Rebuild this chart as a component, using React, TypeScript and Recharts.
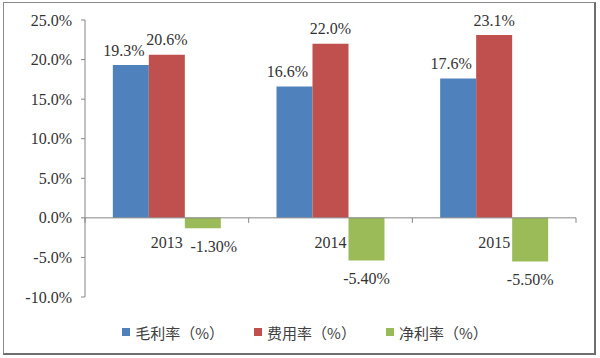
import { BarChart, Bar, XAxis, YAxis, Legend, ReferenceLine, LabelList } from "recharts";

const years = ["2013", "2014", "2015"];
const grossMargin = [19.3, 16.6, 17.6];
const expenseRate = [20.6, 22.0, 23.1];
const netMargin = [-1.3, -5.4, -5.5];
const yTicks = [-10, -5, 0, 5, 10, 15, 20, 25];

const data = years.map((y, i) => ({
  year: y,
  gross: grossMargin[i],
  expense: expenseRate[i],
  net: netMargin[i],
}));

const W = 600;
const H = 358;
const M = { top: 20, right: 24, left: 0, bottom: 14 };
const Y_W = 85;
const X_H = 23;
const LEG_H = 24;
const PLOT_TOP = M.top;
const PLOT_BOTTOM = H - M.bottom - LEG_H - X_H;
const PLOT_W = W - M.right - M.left - Y_W;
const ZERO_Y = PLOT_TOP + ((25 - 0) / 35) * (PLOT_BOTTOM - PLOT_TOP);
const BAND = PLOT_W / years.length;

const serif = "Liberation Serif";
const textColor = "#333";
const axisColor = "#868686";

const XTick = (props: any) => {
  const { x, payload, index } = props;
  return (
    <g>
      <line x1={x - BAND / 2} x2={x - BAND / 2} y1={ZERO_Y} y2={ZERO_Y + 5} stroke={axisColor} />
      {index === years.length - 1 && (
        <line x1={x + BAND / 2} x2={x + BAND / 2} y1={ZERO_Y} y2={ZERO_Y + 5} stroke={axisColor} />
      )}
      <text x={x} y={ZERO_Y + 25} textAnchor="middle" dominantBaseline="central"
        style={{ fontFamily: serif }} fontSize={16} fill={textColor}>
        {payload.value}
      </text>
    </g>
  );
};

const YTick = (props: any) => {
  const { x, y, payload } = props;
  return (
    <text x={x} y={y} textAnchor="end" dominantBaseline="central"
      style={{ fontFamily: serif }} fontSize={16} fill={textColor}>
      {payload.value.toFixed(1) + "%"}
    </text>
  );
};

const topLabel = (dx: number) => (props: any) => {
  const { x, y, width, value } = props;
  return (
    <text x={x + width / 2 + dx} y={y - 15} textAnchor="middle" dominantBaseline="central"
      style={{ fontFamily: serif }} fontSize={16} fill={textColor}>
      {value.toFixed(1) + "%"}
    </text>
  );
};

const netLabel = (props: any) => {
  const { x, y, width, height, value, index } = props;
  const bottom = Math.max(y, y + height);
  const dx = index === 0 ? 11 : 0;
  return (
    <text x={x + width / 2 + dx} y={bottom + 18} textAnchor="middle" dominantBaseline="central"
      style={{ fontFamily: serif }} fontSize={16} fill={textColor}>
      {value.toFixed(2) + "%"}
    </text>
  );
};

const legendItems = [
  { name: "毛利率（%）", color: "#4F81BD" },
  { name: "费用率（%）", color: "#C0504D" },
  { name: "净利率（%）", color: "#9BBB59" },
];

const LegendContent = () => (
  <div style={{ display: "flex", justifyContent: "center", gap: 30, height: LEG_H, alignItems: "center",
    paddingLeft: 34, fontFamily: "'Noto Sans CJK SC', sans-serif", fontSize: 15, color: "#404040" }}>
    {legendItems.map((it) => (
      <div key={it.name} style={{ display: "flex", alignItems: "center" }}>
        <span style={{ width: 8, height: 8, background: it.color, marginRight: 5, display: "inline-block" }} />
        <span>{it.name}</span>
      </div>
    ))}
  </div>
);

export default function App() {
  return (
    <div style={{ position: "absolute", left: 0, top: 0, width: W, height: H, background: "#fff" }}>
      <div style={{ position: "absolute", left: 3, top: 2, width: 590, height: 350,
        border: "1px solid #8a8a8a", borderRightWidth: 2, borderBottomWidth: 2, borderRightColor: "#6e6e6e", borderBottomColor: "#6e6e6e" }} />
      <BarChart width={W} height={H} data={data} margin={M} barCategoryGap="17%" barGap={0}>
        <XAxis dataKey="year" height={X_H} axisLine={false} tickLine={false} tick={<XTick />} interval={0} />
        <YAxis domain={[-10, 25]} ticks={yTicks} width={Y_W} tickSize={4} tickMargin={9}
          stroke={axisColor} tick={<YTick />} allowDataOverflow />
        <ReferenceLine y={0} stroke={axisColor} />
        <Legend verticalAlign="bottom" height={LEG_H} content={<LegendContent />} />
        <Bar dataKey="gross" name="毛利率（%）" fill="#4F81BD" isAnimationActive={false}>
          <LabelList dataKey="gross" content={topLabel(-7)} />
        </Bar>
        <Bar dataKey="expense" name="费用率（%）" fill="#C0504D" isAnimationActive={false}>
          <LabelList dataKey="expense" content={topLabel(0)} />
        </Bar>
        <Bar dataKey="net" name="净利率（%）" fill="#9BBB59" isAnimationActive={false}>
          <LabelList dataKey="net" content={netLabel} />
        </Bar>
      </BarChart>
    </div>
  );
}
